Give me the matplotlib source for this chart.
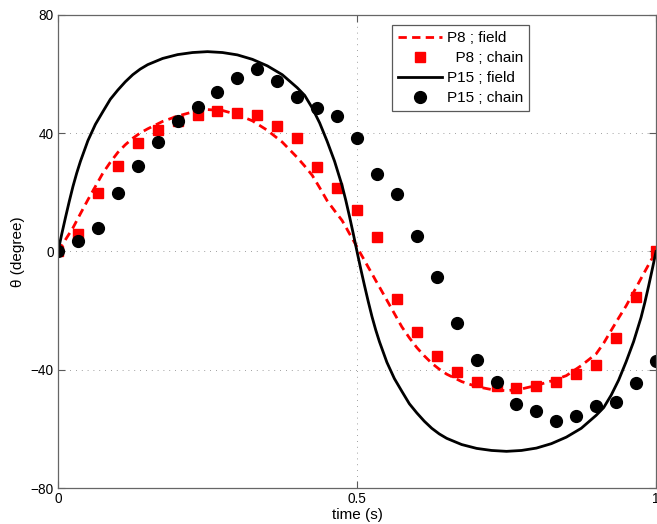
# theta vs time for P8 and P15: field model (lines) against chain model (markers)
import numpy as np
import matplotlib
matplotlib.use("Agg")
import matplotlib.pyplot as plt

plt.rcParams['font.family'] = ['Liberation Sans', 'DejaVu Sans']

# field solutions
t_field = [0, 0.00625, 0.0125, 0.01875, 0.025, 0.03125, 0.0375, 0.05, 0.0625,
           0.075, 0.0875, 0.1, 0.1125, 0.125, 0.1375,
           0.15, 0.175, 0.2, 0.225, 0.25, 0.275, 0.3, 0.325, 0.35, 0.375,
           0.4, 0.4125, 0.425, 0.4375, 0.45, 0.4625, 0.475, 0.48125, 0.4875,
           0.49375, 0.5, 0.50625,
           0.5125, 0.51875, 0.525, 0.53125, 0.5375, 0.55, 0.5625, 0.575, 0.5875,
           0.6, 0.6125, 0.625, 0.6375,
           0.65, 0.675, 0.7, 0.725, 0.75, 0.775, 0.8, 0.825, 0.85, 0.875,
           0.9, 0.9125, 0.925, 0.9375, 0.95, 0.9625, 0.975, 0.98125, 0.9875,
           0.99375, 1.0]

p8_field = [0, 2.0, 4.0, 6.0, 8.0, 10.4, 12.8, 17.5, 22.0,
            26.5, 30.2, 33.5, 36.1, 38.3, 40.1,
            41.5, 44.0, 45.8, 47.2, 48.0, 47.7, 46.3, 44.2, 41.0, 37.0,
            31.8, 28.9, 25.8, 21.6, 17.2, 13.8, 10.5, 8.3, 6.0,
            3.8, 1.5, -0.8,
            -3.0, -5.3, -7.5, -9.8, -12.0, -16.5, -21.0, -25.5, -29.2,
            -32.5, -35.3, -37.8, -39.8,
            -41.5, -44.0, -45.7, -46.7, -47.1, -46.5, -45.3, -43.8, -42.0, -38.6,
            -34.6, -31.0, -26.7, -22.5, -18.4, -13.8, -9.1, -6.8, -4.5,
            -2.2, 0]

p15_field = [0, 5.9, 11.5, 16.9, 22.0, 26.5, 30.5, 37.5, 43.0,
             47.3, 51.5, 54.6, 57.4, 59.8, 61.7,
             63.2, 65.3, 66.6, 67.3, 67.6, 67.3, 66.5, 65.0, 62.8, 59.8,
             55.4, 52.8, 48.6, 43.5, 37.3, 30.5, 22.3, 17.3, 11.8,
             6.0, 0, -5.9,
             -11.5, -16.9, -22.0, -26.5, -30.5, -37.5, -43.0, -47.3, -51.5,
             -54.6, -57.4, -59.8, -61.7,
             -63.2, -65.3, -66.6, -67.3, -67.6, -67.3, -66.5, -65.0, -62.8, -59.8,
             -55.4, -52.8, -48.6, -43.5, -37.3, -30.5, -22.3, -17.3, -11.8,
             -6.0, 0]

# chain solutions, one sample every 1/30 s
t_chain = np.arange(31) / 30

p8_chain = [0, 5.8, 19.7, 29.0, 36.6, 41.1, 44.0, 46.2, 47.6, 47.0,
            46.2, 42.3, 38.4, 28.7, 21.4, 14.0, 5.0, -16.1, -27.3, -35.2,
            -40.8, -44.0, -45.5, -46.2, -45.5, -44.3, -41.3, -38.4, -29.4, -15.5,
            0.0]

p15_chain = [0, 3.6, 7.8, 19.9, 28.8, 37.2, 44.3, 49.0, 53.8, 58.8,
             61.7, 57.8, 52.4, 48.7, 45.9, 38.5, 26.3, 19.5, 5.2, -8.5,
             -24.3, -36.6, -44.0, -51.6, -54.0, -57.2, -55.7, -52.3, -50.9, -44.5,
             -37.1]

fig = plt.figure(figsize=(6.57, 5.24), dpi=100)
ax = fig.add_axes([0.0883, 0.0687, 0.9102, 0.9027])

ax.plot(t_field, p8_field, color='#ff0000', lw=2.0, dashes=(3.0, 1.9),
        label='P8 ; field')
ax.plot(t_chain, p8_chain, 's', color='#ff0000', ms=7, mec='#ff0000',
        label='  P8 ; chain')
ax.plot(t_field, p15_field, color='black', lw=2.0, label='P15 ; field')
ax.plot(t_chain, p15_chain, 'o', color='black', ms=8.5, label='P15 ; chain')

ax.set_xlim(0, 1)
ax.set_ylim(-80, 80)
ax.set_xticks([0, 0.5, 1])
ax.set_xticklabels(['0', '0.5', '1'])
ax.set_yticks([-80, -40, 0, 40, 80])

ax.grid(True, color='0.5', lw=0.6, linestyle=(0, (1, 6.0)))
ax.tick_params(direction='in', length=5, width=0.8, color='0.35',
               top=True, right=True, labelsize=9.8, pad=3)
for sp in ax.spines.values():
    sp.set_color('0.4')
    sp.set_linewidth(0.9)

ax.set_xlabel('time (s)', fontsize=11, labelpad=1)
ax.set_ylabel('θ (degree)', fontsize=11, labelpad=4)

leg = ax.legend(loc='upper left', bbox_to_anchor=(0.558, 0.979),
                borderaxespad=0, fontsize=11, handlelength=2.9,
                handletextpad=0.3, labelspacing=0.4, borderpad=0.4,
                fancybox=False, framealpha=1, edgecolor='0.35')
leg.get_frame().set_linewidth(0.9)

fig.savefig('out.png', dpi=100)
